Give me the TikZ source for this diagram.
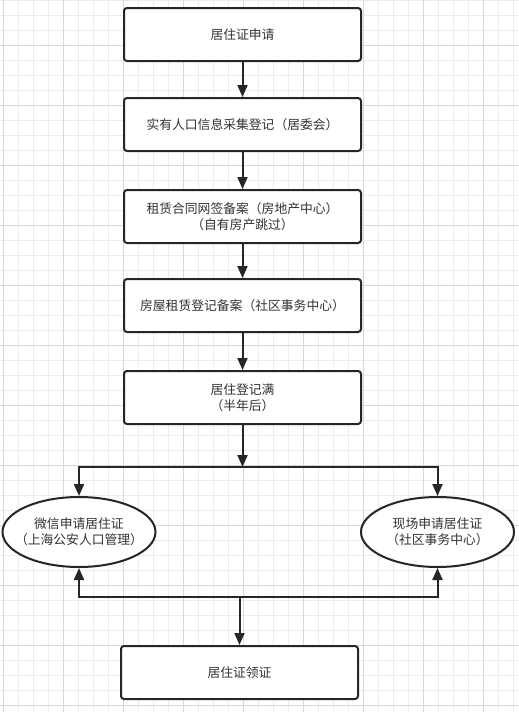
\documentclass[tikz,border=0pt]{standalone}
\usepackage{fontspec}
\setmainfont{Noto Sans CJK SC}
\usetikzlibrary{arrows.meta, calc}
\usetikzlibrary{shapes.geometric}
\definecolor{myline}{RGB}{38,38,38}
\definecolor{mytext}{RGB}{51,51,51}
\definecolor{mygrid}{RGB}{236,236,236}
\definecolor{mymajor}{RGB}{216,216,216}
\tikzstyle{stepbox} = [draw=myline, line width=2, rounded corners=3,
    minimum width=237, minimum height=53, inner sep=2, fill=white,
    text=mytext, font=\fontsize{12.8}{16}\selectfont, align=center]
\tikzstyle{choice} = [draw=myline, line width=2, ellipse,
    minimum width=153, minimum height=70, inner xsep=-12, inner ysep=0,
    fill=white, text=mytext, font=\fontsize{12.8}{16}\selectfont, align=center]
\tikzstyle{flow} = [draw=myline, line width=2,
    -{Triangle[length=12pt,width=10pt]}]

\begin{document}
\begin{tikzpicture}[x=1pt,y=-1pt]

    % background and grid
    \fill[white] (0,0) rectangle (519,712);
    \useasboundingbox (0,0) rectangle (519,712);
    \foreach \gx in {3,18,...,518} \draw[mygrid,line width=0.8] (\gx,0) -- (\gx,712);
    \foreach \gy in {0,15,...,711} \draw[mygrid,line width=0.8] (0,\gy) -- (519,\gy);
    \foreach \gx in {3,63,...,518} \draw[mymajor,line width=0.8] (\gx,0) -- (\gx,712);
    \foreach \gy in {45,105,...,711} \draw[mymajor,line width=0.8] (0,\gy) -- (519,\gy);

    %%% STEPS
    \node[stepbox] (apply) at (242.5,34.5) {居住证申请};
    \node[stepbox] (census) at (242.5,124.5) {实有人口信息采集登记（居委会）};
    \node[stepbox] (contract) at (242.5,216.5) {租赁合同网签备案（房地产中心）\\（自有房产跳过）};
    \node[stepbox] (lease) at (242.5,305.5) {房屋租赁登记备案（社区事务中心）};
    \node[stepbox] (halfyear) at (242.5,397.5) {居住登记满\\（半年后）};

    %%% TWO WAYS
    \node[choice] (wechat) at (79,532) {微信申请居住证\\（上海公安人口管理）};
    \node[choice] (onsite) at (437.5,532) {现场申请居住证\\（社区事务中心）};

    \node[stepbox] (pickup) at (239.5,672.5) {居住证领证};

    \coordinate (split) at (242.5,467);
    \coordinate (merge) at (239.5,597);

    % arrows
    \draw[flow] (apply) -- (census);
    \draw[flow] (census) -- (contract);
    \draw[flow] (contract) -- (lease);
    \draw[flow] (lease) -- (halfyear);
    \draw[flow] (halfyear) -- (split);
    \draw[flow] (split) -| (wechat.north);
    \draw[flow] (split) -| (onsite.north);
    \draw[flow] (merge) -| (wechat.south);
    \draw[flow] (merge) -| (onsite.south);
    \draw[flow] (merge) -- (pickup);

\end{tikzpicture}
\end{document}
